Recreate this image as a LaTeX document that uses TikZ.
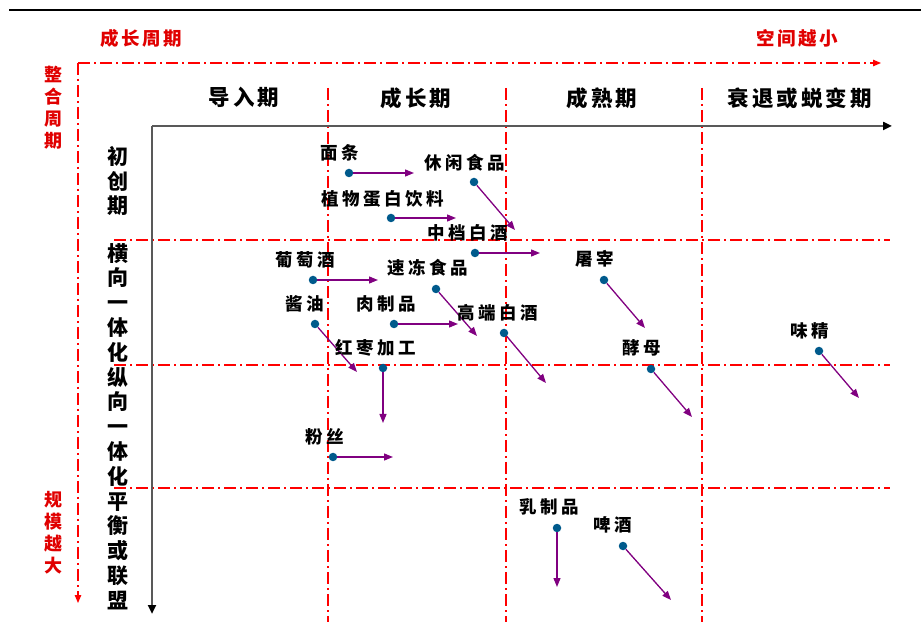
\documentclass[tikz,border=0pt]{standalone}
\usepackage{fontspec}
\usetikzlibrary{arrows.meta}
\newfontfamily\cjk{Noto Sans CJK SC}
\newfontfamily\cjklab{Noto Sans CJK SC}[LetterSpace=20]
\newfontfamily\cjkhead{Noto Sans CJK SC}[LetterSpace=14]
\definecolor{dotblue}{HTML}{005A8C}
\definecolor{arrpurple}{HTML}{800080}
\definecolor{axred}{HTML}{FF0000}
\definecolor{txtred}{HTML}{E00000}
\tikzset{
  redgrid/.style={draw=axred, line width=1.3pt, dash pattern=on 12pt off 4pt on 2pt off 4pt},
  redaxis/.style={redgrid, -{Triangle[length=8pt,width=6.5pt]}},
  grayaxis/.style={draw=gray!70!black, line width=2.4pt, -{Triangle[length=9pt,width=8pt,color=black]}},
  dot/.style={circle, fill=dotblue, inner sep=0pt, minimum size=8.5pt},
  arr/.style={draw=arrpurple, line width=1.3pt, -{Triangle[length=9pt,width=7pt]}},
  lab/.style={font=\cjklab\bfseries\fontsize{17.5}{19}\selectfont, inner sep=0pt},
  head/.style={font=\cjkhead\bfseries\fontsize{21.5}{24}\selectfont, inner sep=0pt},
  redtxt/.style={font=\cjkhead\bfseries\fontsize{18.5}{22}\selectfont, text=txtred, inner sep=0pt},
  vblack/.style={font=\cjk\bfseries\fontsize{21}{24.8}\selectfont, align=center, inner sep=0pt, anchor=north},
  vred/.style={font=\cjk\bfseries\fontsize{18}{22}\selectfont, text=txtred, align=center, inner sep=0pt, anchor=north}
}
\begin{document}
\begin{tikzpicture}[x=1pt,y=-1pt]
\useasboundingbox (0,0) rectangle (922,628);
% top rule
\draw[line width=2.2pt] (9,10) -- (921,10);
% red texts
\node[redtxt] (tgrow) at (141,38) {成长周期};
\node[redtxt] (tspace) at (797,38) {空间越小};
\node[vred] (tint) at (53,66) {整\\合\\周\\期};
\node[vred] (tscale) at (53,491) {规\\模\\越\\大};
% red outer axes
\coordinate (rorig) at (78,63);
\coordinate (rright) at (881,63);
\coordinate (rdown) at (78,603);
\draw[redaxis] (rorig) -- (rright);
\draw[redaxis] (rorig) -- (rdown);
% grid lines
\foreach \x/\n in {328/a,506/b,702/c} {
  \coordinate (vt\n) at (\x,88);
  \coordinate (vb\n) at (\x,622);
  \draw[redgrid] (vt\n) -- (vb\n);
}
\foreach \y/\n in {240/a,365/b,488/c} {
  \coordinate (hl\n) at (114,\y);
  \coordinate (hr\n) at (890,\y);
  \draw[redgrid] (hl\n) -- (hr\n);
}
% gray axes
\coordinate (gorig) at (152,126);
\coordinate (gright) at (892,126);
\coordinate (gdown) at (152,614);
\draw[grayaxis] (gorig) -- (gright);
\draw[grayaxis] (gorig) -- (gdown);
% headers
\node[head] (h1) at (244,97) {导入期};
\node[head] (h2) at (416,98) {成长期};
\node[head] (h3) at (602,98) {成熟期};
\node[head] (h4) at (800,98) {衰退或蜕变期};
% left vertical texts
\node[vblack] (vinit) at (118,146) {初\\创\\期};
\node[vblack] (vint) at (118,243) {横\\向\\一\\体\\化\\纵\\向\\一\\体\\化\\平\\衡\\或\\联\\盟};
% items
\foreach \n/\t/\lx/\ly/\dx/\dy/\ex/\ey in {
  1/面条/340/153/349/173/414/173,
  2/休闲食品/465/163/474/182/515/230,
  3/植物蛋白饮料/383/199/391/218/456/218,
  4/中档白酒/468/233/475/253/540/253,
  5/葡萄酒/305/260/313/280/378/280,
  6/速冻食品/428/268/436/289/477/336,
  7/酱油/305/304/315/324/357/372,
  8/肉制品/386/304/394/324/458/324,
  9/高端白酒/498/313/504/333/546/383,
  10/红枣加工/376/348/383/368/383/423,
  11/屠宰/595/259/604/280/645/328,
  12/酵母/642/348/651/369/692/417,
  13/味精/810/331/819/351/859/398,
  14/粉丝/325/437/333/457/393/457,
  15/乳制品/549/507/557/528/557/587,
  16/啤酒/613/525/623/546/671/600} {
  \node[lab] (l\n) at (\lx,\ly) {\t};
  \node[dot] (d\n) at (\dx,\dy) {};
  \coordinate (e\n) at (\ex,\ey);
  \draw[arr] (d\n) -- (e\n);
}
\end{tikzpicture}
\end{document}
